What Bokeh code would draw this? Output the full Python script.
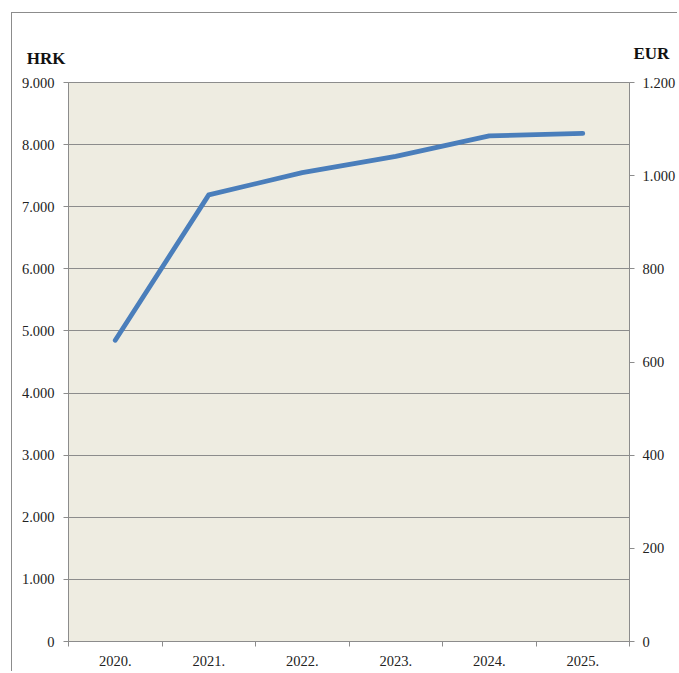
from bokeh.plotting import figure
from bokeh.models import Range1d, LinearAxis, FixedTicker, Label
from bokeh.embed import file_html
from bokeh.resources import INLINE

years = ["2020.", "2021.", "2022.", "2023.", "2024.", "2025."]
hrk_values = [4850, 7190, 7550, 7810, 8140, 8180]
hrk_ticks = [0, 1000, 2000, 3000, 4000, 5000, 6000, 7000, 8000, 9000]
hrk_labels = ["0", "1.000", "2.000", "3.000", "4.000", "5.000", "6.000", "7.000", "8.000", "9.000"]
eur_ticks = [0, 200, 400, 600, 800, 1000, 1200]
eur_labels = ["0", "200", "400", "600", "800", "1.000", "1.200"]

FONT = "Liberation Serif"
GRAY = "#8c8c8c"
TICK_SIZE = "14.5px"

n = len(years)
xs = [i + 0.5 for i in range(n)]

p = figure(width=666, height=659, x_range=Range1d(0, n), y_range=Range1d(0, hrk_ticks[-1]),
           output_backend="svg", toolbar_location=None, title_location=None,
           min_border_left=56, min_border_right=47, min_border_top=69, min_border_bottom=31)
p.styles = {"border-top": "1px solid #8c8c8c", "border-left": "1px solid #8c8c8c",
            "margin-left": "11px", "margin-top": "12px"}
p.background_fill_color = "#eeece1"
p.border_fill_color = "white"
p.outline_line_color = GRAY
p.extra_y_ranges = {"eur": Range1d(0, eur_ticks[-1])}

p.line(xs, hrk_values, line_color="#4a7ebb", line_width=4.8, line_cap="round", line_join="round")

# x axis
xa = p.xaxis[0]
xa.ticker = FixedTicker(ticks=xs, minor_ticks=list(range(n + 1)))
xa.major_label_overrides = {x: y for x, y in zip(xs, years)}
xa.major_tick_line_color = None
xa.minor_tick_out = 5
xa.minor_tick_in = 0
xa.minor_tick_line_color = GRAY
xa.axis_line_color = GRAY
xa.major_label_text_font = FONT
xa.major_label_text_font_size = TICK_SIZE
xa.major_label_text_color = "#222222"
xa.major_label_standoff = 8

# left axis
ya = p.yaxis[0]
ya.ticker = FixedTicker(ticks=hrk_ticks)
ya.major_label_overrides = {t: l for t, l in zip(hrk_ticks, hrk_labels)}
ya.major_tick_out = 5
ya.major_tick_in = 0
ya.minor_tick_line_color = None
ya.major_tick_line_color = GRAY
ya.axis_line_color = GRAY
ya.major_label_text_font = FONT
ya.major_label_text_font_size = TICK_SIZE
ya.major_label_text_color = "#222222"
ya.major_label_standoff = 9

# right axis
ra = LinearAxis(y_range_name="eur")
ra.ticker = FixedTicker(ticks=eur_ticks)
ra.major_label_overrides = {t: l for t, l in zip(eur_ticks, eur_labels)}
ra.major_tick_out = 5
ra.major_tick_in = 0
ra.minor_tick_line_color = None
ra.major_tick_line_color = GRAY
ra.axis_line_color = GRAY
ra.major_label_text_font = FONT
ra.major_label_text_font_size = TICK_SIZE
ra.major_label_text_color = "#222222"
ra.major_label_standoff = 8
p.add_layout(ra, "right")

p.xgrid.visible = False
p.ygrid.ticker = FixedTicker(ticks=hrk_ticks)
p.ygrid.grid_line_color = GRAY
p.ygrid.grid_line_width = 1.2

p.add_layout(Label(x=0, y=hrk_ticks[-1], x_offset=-3, y_offset=24, text="HRK",
                   text_align="right", text_baseline="middle", text_font=FONT,
                   text_font_style="bold", text_font_size="17px", text_color="#111111"), "above")
p.add_layout(Label(x=n, y=hrk_ticks[-1], x_offset=4, y_offset=29, text="EUR",
                   text_align="left", text_baseline="middle", text_font=FONT,
                   text_font_style="bold", text_font_size="17px", text_color="#111111"), "above")

open("out.html", "w").write(file_html(p, INLINE))
